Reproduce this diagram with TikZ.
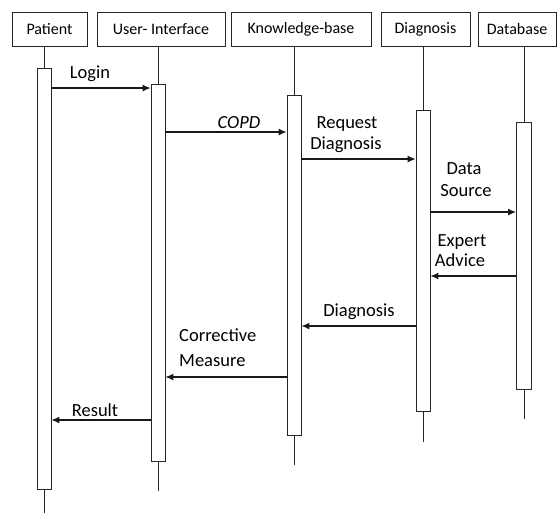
\documentclass[tikz,border=0pt]{standalone}
\usepackage{fontspec}
\setmainfont{Carlito}
\usetikzlibrary{arrows.meta}
\tikzset{
  x=1pt, y=-1pt,
  head/.style={draw=black!85, line width=0.9pt, rectangle, inner sep=0pt,
    minimum height=34pt, font=\fontsize{16}{18}\selectfont},
  bar/.style={draw=black!85, fill=white, line width=0.9pt, rectangle, inner sep=0pt,
    minimum width=14pt, anchor=north},
  life/.style={draw=black!85, line width=0.9pt},
  msg/.style={draw=black!90, line width=1.1pt, -{Latex[length=8pt,width=7pt]}},
  lbl/.style={font=\fontsize{18.5}{21}\selectfont, inner sep=0pt, anchor=base},
}
\begin{document}
\begin{tikzpicture}
\useasboundingbox (0,0) rectangle (557,515);
% headers
\node[head, minimum width=75pt]  (hp) at (49.5,29) {Patient};
\node[head, minimum width=128pt] (hu) at (161,29) {User- Interface};
\node[head, minimum width=140pt] (hk) at (301,29) {Knowledge-base};
\node[head, minimum width=89pt]  (hd) at (425.5,29) {Diagnosis};
\node[head, minimum width=78pt]  (hb) at (517,29) {Database};
% lifeline ends
\coordinate (ep) at (44,513);
\coordinate (eu) at (158,491);
\coordinate (ek) at (294,465);
\coordinate (ed) at (423,442);
\coordinate (eb) at (524,419);
\draw[life] (hp.south -| ep) -- (ep);
\draw[life] (hu.south -| eu) -- (eu);
\draw[life] (hk.south -| ek) -- (ek);
\draw[life] (hd.south -| ed) -- (ed);
\draw[life] (hb.south -| eb) -- (eb);
% activation bars
\node[bar, minimum height=421pt] (bp) at (44,68) {};
\node[bar, minimum height=377pt] (bu) at (158,84) {};
\node[bar, minimum height=340pt] (bk) at (294,95) {};
\node[bar, minimum height=301pt] (bd) at (423,110) {};
\node[bar, minimum height=267pt, minimum width=15pt] (bb) at (524,122) {};
% messages
\draw[msg] (bp.east |- 0,88) -- (bu.west |- 0,88);
\node[lbl] (lLogin) at (90,78.5) {Login};
\draw[msg] (bu.east |- 0,132) -- (bk.west |- 0,132);
\node[lbl] (lCopd) at (239,128) {\itshape COPD};
\draw[msg] (bk.east |- 0,159) -- (bd.west |- 0,159);
\node[lbl] (lReq1) at (347,128.3) {Request};
\node[lbl] (lReq2) at (346,149.3) {Diagnosis};
\draw[msg] (bd.east |- 0,212) -- (bb.west |- 0,212);
\node[lbl] (lDs1) at (464,174) {Data};
\node[lbl] (lDs2) at (466,196) {Source};
\draw[msg] (bb.west |- 0,276) -- (bd.east |- 0,276);
\node[lbl] (lEa1) at (462,246.5) {Expert};
\node[lbl] (lEa2) at (460,266.7) {Advice};
\draw[msg] (bd.west |- 0,326) -- (bk.east |- 0,326);
\node[lbl] (lDg) at (359,316.5) {Diagnosis};
\draw[msg] (bk.west |- 0,377) -- (bu.east |- 0,377);
\node[lbl, anchor=base west] (lCm1) at (179,341.7) {Corrective};
\node[lbl, anchor=base west] (lCm2) at (179,366) {Measure};
\draw[msg] (bu.west |- 0,420) -- (bp.east |- 0,420);
\node[lbl] (lRes) at (95,416.7) {Result};
\end{tikzpicture}
\end{document}
